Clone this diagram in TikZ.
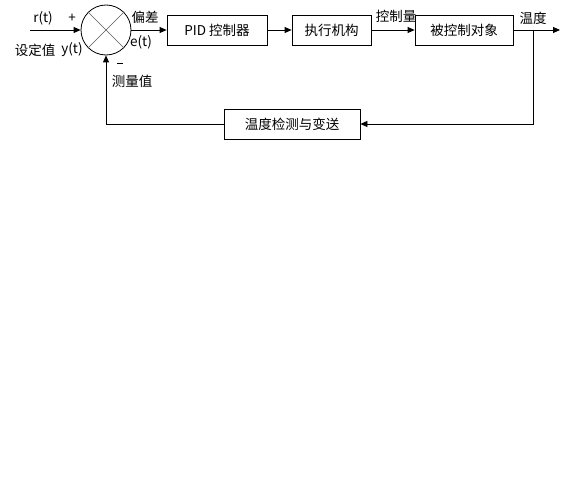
\documentclass[tikz,border=0pt]{standalone}
\usepackage{fontspec}
\setmainfont{Noto Sans CJK SC}
\usepackage{tikz}
\usetikzlibrary{arrows.meta,calc,positioning}

\begin{document}
\begin{tikzpicture}[
  x=1pt, y=-1pt,
  block/.style={rectangle, draw=black, line width=0.8pt, minimum height=30pt, inner sep=2pt, font=\fontsize{13.5}{15}\selectfont},
  lbl/.style={inner sep=0pt, font=\fontsize{13.5}{15}\selectfont},
  flow/.style={line width=0.8pt, -{Triangle[length=7pt,width=6pt]}},
  line/.style={line width=0.8pt}
]
  \useasboundingbox (0,0) rectangle (570,487);
  \node[circle, draw=black, line width=0.8pt, minimum size=50pt, inner sep=0pt] (sum) at (106,30) {};
  \draw[gray!70!black, line width=0.7pt] (sum.45) -- (sum.225);
  \draw[gray!70!black, line width=0.7pt] (sum.135) -- (sum.315);
  \node[block, minimum width=100pt] (pid)   at (217,30)   {PID 控制器};
  \node[block, minimum width=79pt]  (act)   at (331.5,30) {执行机构};
  \node[block, minimum width=98pt]  (plant) at (464,30)   {被控制对象};
  \node[block, minimum width=136pt] (sens)  at (292,124)  {温度检测与变送};
  \coordinate (in)  at (30,30);
  \coordinate (out) at (560,30);
  \coordinate (tap) at (533,30);
  % forward path
  \draw[flow] (in) -- (sum.west);
  \draw[flow] (sum.east) -- (pid.west);
  \draw[flow] (pid.east) -- (act.west);
  \draw[flow] (act.east) -- (plant.west);
  \draw[flow] (plant.east) -- (out);
  % feedback path
  \draw[flow] (tap) |- (sens.east);
  \draw[flow] (sens.west) -| (sum.south);
  % labels
  \node[lbl] (rt)   at (43,18)  {r(t)};
  \node[lbl] (plus) at (72,18)  {+};
  \node[lbl] (sp)   at (35,50)  {设定值};
  \node[lbl] (yt)   at (72,50)  {y(t)};
  \node[lbl] (err)  at (145,17) {偏差};
  \node[lbl] (et)   at (141,42) {e(t)};
  \node[lbl] (u)    at (396,16) {控制量};
  \node[lbl] (temp) at (533,18) {温度};
  \node[lbl] (minus) at (120,64) {\rule[0.3ex]{6pt}{0.8pt}};
  \node[lbl] (meas) at (132,81) {测量值};
\end{tikzpicture}
\end{document}
